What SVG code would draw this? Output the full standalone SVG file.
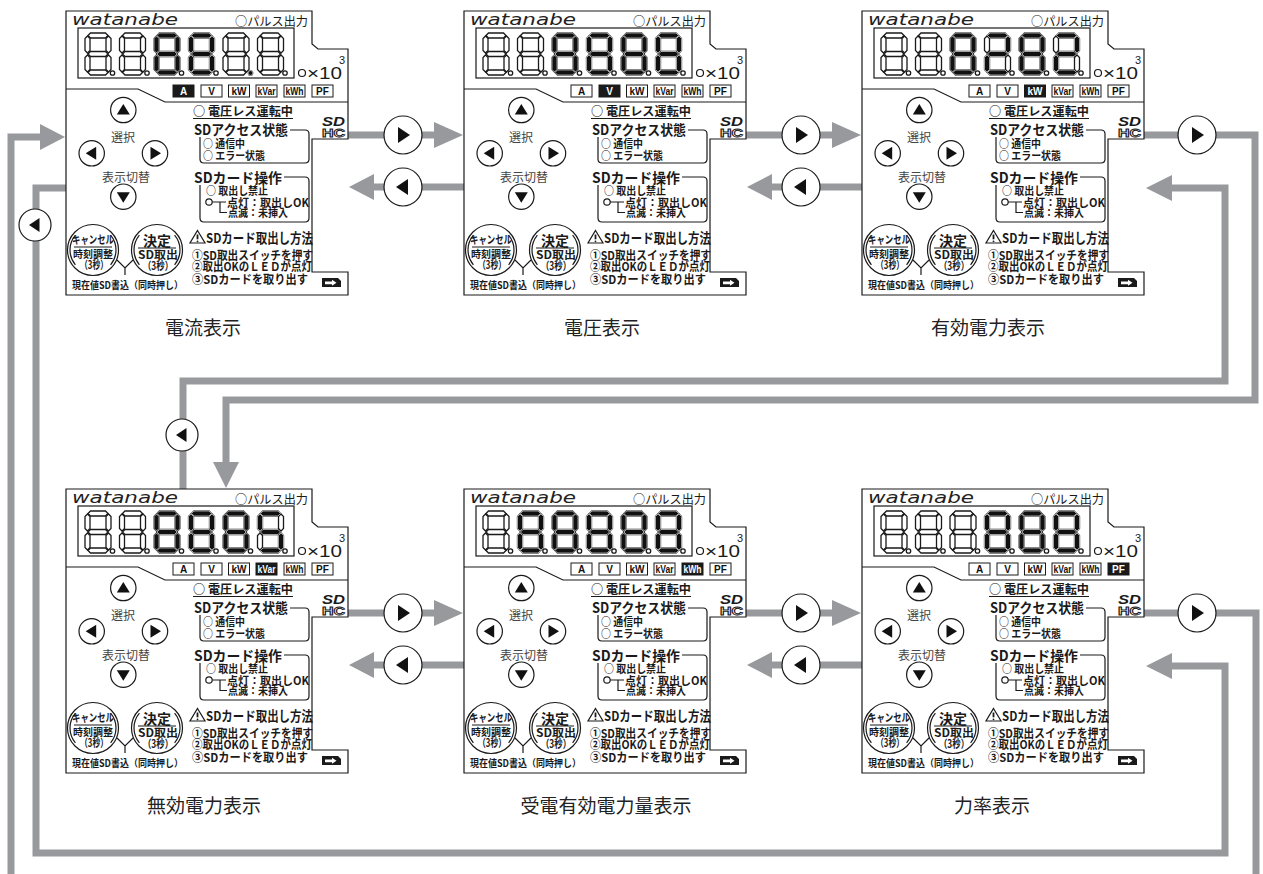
<svg xmlns="http://www.w3.org/2000/svg" width="1263" height="874" viewBox="0 0 1263 874">
<style>
.ol{fill:none;stroke:#1a1a1a;stroke-width:1.2}
.jp{font-family:"Noto Sans CJK JP","Noto Sans CJK SC",sans-serif;fill:#1a1a1a}
.la{font-family:"Liberation Sans",Arial,sans-serif;fill:#1a1a1a}
.b{font-weight:700}
.seg{fill:#fff;stroke:#1a1a1a;stroke-width:1.3}
.lit{fill:#111;stroke:#fff;stroke-width:0.6}
.conn{fill:none;stroke:#98999d;stroke-width:7}
.head{fill:#98999d}
.btn{fill:#fff;stroke:#1a1a1a;stroke-width:1.2}
.tri{fill:#111}
.ub{fill:#fff;stroke:#1a1a1a;stroke-width:1}
.ut{font-family:"Liberation Sans",Arial,sans-serif;font-weight:700;font-size:10px;fill:#111;text-anchor:middle}
.on .ub{fill:#1a1a1a}
.on .ut{fill:#fff}
.cap{font-family:"Noto Sans CJK JP",sans-serif;font-size:19px;fill:#222;text-anchor:middle}
.mid{text-anchor:middle}
</style>
<defs>
<path id="sa" d="M3,2.5 L5.5,0 H20.5 L23,2.5 L20.5,5 H5.5 Z"/>
<path id="sg" d="M3,21 L5.5,18.5 H20.5 L23,21 L20.5,23.5 H5.5 Z"/>
<path id="sd" d="M3,39.5 L5.5,37 H20.5 L23,39.5 L20.5,42 H5.5 Z"/>
<path id="sf" d="M2.5,3 L5,5.5 V17.5 L2.5,20 L0,17.5 V5.5 Z"/>
<path id="sb" d="M23.5,3 L26,5.5 V17.5 L23.5,20 L21,17.5 V5.5 Z"/>
<path id="se" d="M2.5,22 L5,24.5 V36.5 L2.5,39 L0,36.5 V24.5 Z"/>
<path id="sc" d="M23.5,22 L26,24.5 V36.5 L23.5,39 L21,36.5 V24.5 Z"/>
<g id="d8"><use href="#sa"/><use href="#sb"/><use href="#sc"/><use href="#sd"/><use href="#se"/><use href="#sf"/><use href="#sg"/></g>
<g id="dg"><use href="#d8"/><circle cx="27.5" cy="40" r="2.2"/></g>
<g id="bR"><circle r="19" class="btn"/><path d="M-5,-8 L7,0 L-5,8 Z" class="tri"/></g>
<g id="bL"><circle r="19" class="btn"/><path d="M5,-8 L-7,0 L5,8 Z" class="tri"/></g>
<g id="sL"><circle r="16" class="btn"/><path d="M4.5,-7 L-6,0 L4.5,7 Z" class="tri"/></g>
<g id="kR"><circle r="12.7" class="btn"/><path d="M-4.5,-6.5 L6,0 L-4.5,6.5 Z" class="tri"/></g>
<g id="kL"><circle r="12.7" class="btn"/><path d="M4.5,-6.5 L-6,0 L4.5,6.5 Z" class="tri"/></g>
<g id="kU"><circle r="12.7" class="btn"/><path d="M-6.5,4.5 L0,-6 L6.5,4.5 Z" class="tri"/></g>
<g id="kD"><circle r="12.7" class="btn"/><path d="M-6.5,-4.5 L0,6 L6.5,-4.5 Z" class="tri"/></g>
<g id="panelBase">
 <path class="ol" d="M66,11 H312 V44 L318,49 H348 V139 H312 V272 H348 V295 H66 Z"/>
 <path class="ol" d="M66,89 H138 L165,102 H348"/>
 <text x="72" y="25" font-family="DejaVu Sans" font-style="italic" font-size="15" textLength="106" lengthAdjust="spacingAndGlyphs" fill="#222">watanabe</text>
 <text class="jp" x="235" y="26" font-size="12" textLength="73" lengthAdjust="spacingAndGlyphs">○パルス出力</text>
 <rect class="ol" x="78" y="28" width="216" height="50"/>
 <g class="seg">
  <use href="#dg" x="85" y="33"/><use href="#dg" x="119.5" y="33"/><use href="#dg" x="154" y="33"/>
  <use href="#dg" x="188.5" y="33"/><use href="#dg" x="223" y="33"/><use href="#dg" x="257.5" y="33"/>
 </g>
 <circle class="ol" cx="302" cy="73" r="3.5"/>
 <text class="la" x="307" y="79" font-size="17" textLength="35" lengthAdjust="spacingAndGlyphs">×10</text>
 <text class="la" x="339" y="64" font-size="11">3</text>
 <use href="#kU" x="123.3" y="110"/>
 <use href="#kL" x="91.7" y="153.3"/>
 <use href="#kR" x="155" y="153.3"/>
 <use href="#kD" x="123.3" y="196.7"/>
 <text class="jp mid" x="123" y="142" font-size="12" style="fill:#444">選択</text>
 <text class="jp mid" x="126" y="182" font-size="12" style="fill:#444">表示切替</text>
 <text class="jp b" x="193" y="116" font-size="12" textLength="100" lengthAdjust="spacingAndGlyphs">○ 電圧レス運転中</text>
 <path class="ol" d="M193,118.5 H293"/>
 <text class="la b" x="322" y="126" font-size="12" font-style="italic" font-weight="900" textLength="23" lengthAdjust="spacingAndGlyphs">SD</text>
 <text class="la b" x="322" y="137" font-size="10" textLength="23" lengthAdjust="spacingAndGlyphs" style="fill:#fff;stroke:#1a1a1a;stroke-width:0.8">HC</text>
 <text class="jp b" x="194" y="135" font-size="14" textLength="94" lengthAdjust="spacingAndGlyphs">SDアクセス状態</text>
 <path class="ol" d="M290,130 H305 Q309,130 309,134 V159 Q309,163 305,163 H204 Q200,163 200,159 V137"/>
 <text class="jp b" x="203" y="148" font-size="11" textLength="42" lengthAdjust="spacingAndGlyphs">○ 通信中</text>
 <text class="jp b" x="203" y="160" font-size="11" textLength="62" lengthAdjust="spacingAndGlyphs">○ エラー状態</text>
 <text class="jp b" x="194" y="183" font-size="14" textLength="88" lengthAdjust="spacingAndGlyphs">SDカード操作</text>
 <path class="ol" d="M284,177 H305 Q309,177 309,181 V218 Q309,222 305,222 H204 Q200,222 200,218 V185"/>
 <text class="jp b" x="206" y="195" font-size="11" textLength="62" lengthAdjust="spacingAndGlyphs">○ 取出し禁止</text>
 <circle class="ol" cx="209" cy="202" r="3.2"/>
 <path class="ol" d="M212.2,202 H226 M220,202 V212.5 H227"/>
 <text class="jp b" x="227" y="206.5" font-size="11" textLength="82" lengthAdjust="spacingAndGlyphs">点灯：取出しOK</text>
 <text class="jp b" x="228" y="217" font-size="11" textLength="60" lengthAdjust="spacingAndGlyphs">点滅：未挿入</text>
 <path class="ol" d="M197.5,230.5 L205,243 H190 Z"/>
 <path d="M197.5,234.5 V239.3" stroke="#1a1a1a" stroke-width="1.8"/>
 <circle cx="197.5" cy="241.3" r="0.9" fill="#1a1a1a"/>
 <text class="jp b" x="206" y="243" font-size="13.5" textLength="107" lengthAdjust="spacingAndGlyphs">SDカード取出し方法</text>
 <text class="jp b" x="192" y="259.5" font-size="12" textLength="121" lengthAdjust="spacingAndGlyphs">①SD取出スイッチを押す</text>
 <text class="jp b" x="192" y="271" font-size="12" textLength="120" lengthAdjust="spacingAndGlyphs">②取出OKのＬＥＤが点灯</text>
 <text class="jp b" x="192" y="283.5" font-size="12" textLength="116" lengthAdjust="spacingAndGlyphs">③SDカードを取り出す</text>
 <path d="M322,278 H338 L341,281 V287 H322 Z" fill="#1a1a1a"/>
 <path d="M325,281.5 H332 V279.8 L336.5,282.8 L332,285.8 V284.2 H325 Z" fill="#fff"/>
 <circle class="ol" cx="93" cy="250" r="25.5"/>
 <path class="ol" d="M75.4,235.2 A23,23 0 0 0 75.4,264.8 M110.6,235.2 A23,23 0 0 1 110.6,264.8"/>
 <text class="jp b mid" x="93" y="244" font-size="11" textLength="42" lengthAdjust="spacingAndGlyphs">キャンセル</text>
 <path class="ol" d="M74,247 H112"/>
 <text class="jp b mid" x="93" y="258" font-size="10" textLength="40" lengthAdjust="spacingAndGlyphs">時刻調整</text>
 <text class="jp b mid" x="94" y="269" font-size="11" textLength="28" lengthAdjust="spacingAndGlyphs">（3秒）</text>
 <circle class="ol" cx="157" cy="250" r="25.5"/>
 <path class="ol" d="M139.4,235.2 A23,23 0 0 0 139.4,264.8 M174.6,235.2 A23,23 0 0 1 174.6,264.8"/>
 <text class="jp b mid" x="157" y="246" font-size="14">決定</text>
 <path class="ol" d="M138,248 H176"/>
 <text class="jp b mid" x="158" y="259" font-size="11" textLength="40" lengthAdjust="spacingAndGlyphs">SD取出</text>
 <text class="jp b mid" x="158" y="270" font-size="11" textLength="30" lengthAdjust="spacingAndGlyphs">（3秒）</text>
 <path class="ol" d="M117,260 L125,268 L133,260 M125,268 V275"/>
 <text class="jp b" x="72" y="289" font-size="10" textLength="111" lengthAdjust="spacingAndGlyphs">現在値SD書込（同時押し）</text>
</g>
</defs>

<g id="connectors">
 <path class="conn" d="M348,135 H434"/><path class="head" d="M434,122 L463,135 L434,148 Z"/><use href="#bR" x="403" y="135"/>
 <path class="conn" d="M464,187 H374"/><path class="head" d="M374,174 L349,187 L374,200 Z"/><use href="#bL" x="403" y="187"/>
 <path class="conn" d="M746,135 H832"/><path class="head" d="M832,122 L861,135 L832,148 Z"/><use href="#bR" x="801" y="135"/>
 <path class="conn" d="M862,187 H772"/><path class="head" d="M772,174 L747,187 L772,200 Z"/><use href="#bL" x="801" y="187"/>
 <path class="conn" d="M1144,135 H1255 V400 H226 V462"/><path class="head" d="M213,462 L226,488 L239,462 Z"/><use href="#bR" x="1197" y="135"/>
 <path class="conn" d="M183,489 V381 H1225 V188 H1172"/><path class="head" d="M1172,175 L1146,188 L1172,201 Z"/><use href="#sL" x="182" y="435"/>
 <path class="conn" d="M348,613 H434"/><path class="head" d="M434,600 L463,613 L434,626 Z"/><use href="#bR" x="403" y="613"/>
 <path class="conn" d="M464,665 H374"/><path class="head" d="M374,652 L349,665 L374,678 Z"/><use href="#bL" x="403" y="665"/>
 <path class="conn" d="M746,613 H832"/><path class="head" d="M832,600 L861,613 L832,626 Z"/><use href="#bR" x="801" y="613"/>
 <path class="conn" d="M862,665 H772"/><path class="head" d="M772,652 L747,665 L772,678 Z"/><use href="#bL" x="801" y="665"/>
 <path class="conn" d="M1144,613 H1256 V900 M11,900 V137 H40"/><path class="head" d="M40,124 L65,137 L40,150 Z"/><use href="#bR" x="1197" y="613"/>
 <path class="conn" d="M66,188 H36 V853 H1225 V666 H1172"/><path class="head" d="M1172,653 L1146,666 L1172,679 Z"/><use href="#sL" x="35" y="225"/>
</g>

<g id="p-current">
 <use href="#panelBase"/>
 <g class="lit"><use href="#d8" x="154" y="33"/><use href="#d8" x="188.5" y="33"/><circle cx="250.5" cy="73" r="2.4"/></g>
 <g class="on"><rect class="ub" x="173" y="85" width="21" height="12"/><text class="ut" x="183.5" y="94.8">A</text></g>
 <g><rect class="ub" x="201" y="85" width="21" height="12"/><text class="ut" x="211.5" y="94.8">V</text></g>
 <g><rect class="ub" x="228.5" y="85" width="21" height="12"/><text class="ut" x="239" y="94.8">kW</text></g>
 <g><rect class="ub" x="256" y="85" width="21" height="12"/><text class="ut" x="266.5" y="94.8" textLength="18" lengthAdjust="spacingAndGlyphs">kVar</text></g>
 <g><rect class="ub" x="284" y="85" width="21" height="12"/><text class="ut" x="294.5" y="94.8" textLength="18" lengthAdjust="spacingAndGlyphs">kWh</text></g>
 <g><rect class="ub" x="312" y="85" width="21" height="12"/><text class="ut" x="322.5" y="94.8">PF</text></g>
 <text class="cap" x="203" y="335">電流表示</text>
</g>
<g id="p-voltage" transform="translate(398,0)">
 <use href="#panelBase"/>
 <g class="lit"><use href="#d8" x="154" y="33"/><use href="#d8" x="188.5" y="33"/><use href="#d8" x="223" y="33"/><use href="#d8" x="257.5" y="33"/></g>
 <g><rect class="ub" x="173" y="85" width="21" height="12"/><text class="ut" x="183.5" y="94.8">A</text></g>
 <g class="on"><rect class="ub" x="201" y="85" width="21" height="12"/><text class="ut" x="211.5" y="94.8">V</text></g>
 <g><rect class="ub" x="228.5" y="85" width="21" height="12"/><text class="ut" x="239" y="94.8">kW</text></g>
 <g><rect class="ub" x="256" y="85" width="21" height="12"/><text class="ut" x="266.5" y="94.8" textLength="18" lengthAdjust="spacingAndGlyphs">kVar</text></g>
 <g><rect class="ub" x="284" y="85" width="21" height="12"/><text class="ut" x="294.5" y="94.8" textLength="18" lengthAdjust="spacingAndGlyphs">kWh</text></g>
 <g><rect class="ub" x="312" y="85" width="21" height="12"/><text class="ut" x="322.5" y="94.8">PF</text></g>
 <text class="cap" x="204" y="335">電圧表示</text>
</g>
<g id="p-active-power" transform="translate(796,0)">
 <use href="#panelBase"/>
 <g class="lit"><use href="#d8" x="154" y="33"/><g transform="translate(188.5,33)"><use href="#sa"/><use href="#sb"/><use href="#sg"/><use href="#se"/><use href="#sd"/></g><use href="#d8" x="223" y="33"/><g transform="translate(257.5,33)"><use href="#sa"/><use href="#sb"/><use href="#sg"/><use href="#se"/><use href="#sd"/></g></g>
 <g><rect class="ub" x="173" y="85" width="21" height="12"/><text class="ut" x="183.5" y="94.8">A</text></g>
 <g><rect class="ub" x="201" y="85" width="21" height="12"/><text class="ut" x="211.5" y="94.8">V</text></g>
 <g class="on"><rect class="ub" x="228.5" y="85" width="21" height="12"/><text class="ut" x="239" y="94.8">kW</text></g>
 <g><rect class="ub" x="256" y="85" width="21" height="12"/><text class="ut" x="266.5" y="94.8" textLength="18" lengthAdjust="spacingAndGlyphs">kVar</text></g>
 <g><rect class="ub" x="284" y="85" width="21" height="12"/><text class="ut" x="294.5" y="94.8" textLength="18" lengthAdjust="spacingAndGlyphs">kWh</text></g>
 <g><rect class="ub" x="312" y="85" width="21" height="12"/><text class="ut" x="322.5" y="94.8">PF</text></g>
 <text class="cap" x="192" y="335">有効電力表示</text>
</g>
<g id="p-reactive-power" transform="translate(0,478)">
 <use href="#panelBase"/>
 <g class="lit"><use href="#d8" x="154" y="33"/><use href="#d8" x="188.5" y="33"/><use href="#d8" x="223" y="33"/><g transform="translate(257.5,33)"><use href="#sa"/><use href="#sf"/><use href="#sg"/><use href="#sc"/><use href="#sd"/></g></g>
 <g><rect class="ub" x="173" y="85" width="21" height="12"/><text class="ut" x="183.5" y="94.8">A</text></g>
 <g><rect class="ub" x="201" y="85" width="21" height="12"/><text class="ut" x="211.5" y="94.8">V</text></g>
 <g><rect class="ub" x="228.5" y="85" width="21" height="12"/><text class="ut" x="239" y="94.8">kW</text></g>
 <g class="on"><rect class="ub" x="256" y="85" width="21" height="12"/><text class="ut" x="266.5" y="94.8" textLength="18" lengthAdjust="spacingAndGlyphs">kVar</text></g>
 <g><rect class="ub" x="284" y="85" width="21" height="12"/><text class="ut" x="294.5" y="94.8" textLength="18" lengthAdjust="spacingAndGlyphs">kWh</text></g>
 <g><rect class="ub" x="312" y="85" width="21" height="12"/><text class="ut" x="322.5" y="94.8">PF</text></g>
 <text class="cap" x="204" y="335">無効電力表示</text>
</g>
<g id="p-received-energy" transform="translate(398,478)">
 <use href="#panelBase"/>
 <g class="lit"><use href="#d8" x="119.5" y="33"/><use href="#d8" x="154" y="33"/><use href="#d8" x="188.5" y="33"/><use href="#d8" x="223" y="33"/><use href="#d8" x="257.5" y="33"/></g>
 <g><rect class="ub" x="173" y="85" width="21" height="12"/><text class="ut" x="183.5" y="94.8">A</text></g>
 <g><rect class="ub" x="201" y="85" width="21" height="12"/><text class="ut" x="211.5" y="94.8">V</text></g>
 <g><rect class="ub" x="228.5" y="85" width="21" height="12"/><text class="ut" x="239" y="94.8">kW</text></g>
 <g><rect class="ub" x="256" y="85" width="21" height="12"/><text class="ut" x="266.5" y="94.8" textLength="18" lengthAdjust="spacingAndGlyphs">kVar</text></g>
 <g class="on"><rect class="ub" x="284" y="85" width="21" height="12"/><text class="ut" x="294.5" y="94.8" textLength="18" lengthAdjust="spacingAndGlyphs">kWh</text></g>
 <g><rect class="ub" x="312" y="85" width="21" height="12"/><text class="ut" x="322.5" y="94.8">PF</text></g>
 <text class="cap" x="208" y="335">受電有効電力量表示</text>
</g>
<g id="p-power-factor" transform="translate(796,478)">
 <use href="#panelBase"/>
 <g class="lit"><use href="#d8" x="188.5" y="33"/><use href="#d8" x="223" y="33"/><use href="#d8" x="257.5" y="33"/></g>
 <g><rect class="ub" x="173" y="85" width="21" height="12"/><text class="ut" x="183.5" y="94.8">A</text></g>
 <g><rect class="ub" x="201" y="85" width="21" height="12"/><text class="ut" x="211.5" y="94.8">V</text></g>
 <g><rect class="ub" x="228.5" y="85" width="21" height="12"/><text class="ut" x="239" y="94.8">kW</text></g>
 <g><rect class="ub" x="256" y="85" width="21" height="12"/><text class="ut" x="266.5" y="94.8" textLength="18" lengthAdjust="spacingAndGlyphs">kVar</text></g>
 <g><rect class="ub" x="284" y="85" width="21" height="12"/><text class="ut" x="294.5" y="94.8" textLength="18" lengthAdjust="spacingAndGlyphs">kWh</text></g>
 <g class="on"><rect class="ub" x="312" y="85" width="21" height="12"/><text class="ut" x="322.5" y="94.8">PF</text></g>
 <text class="cap" x="196" y="335">力率表示</text>
</g>
</svg>
